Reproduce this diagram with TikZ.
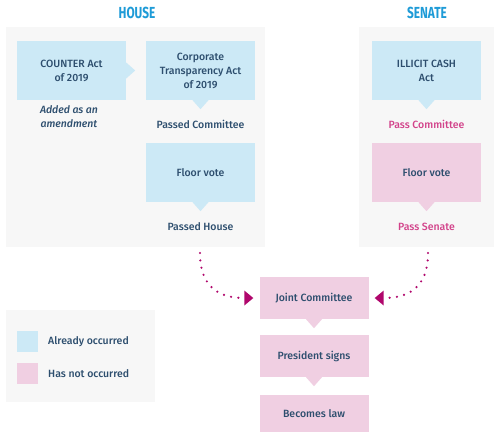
\documentclass[tikz,border=0pt]{standalone}
\usepackage{fontspec}
\setmainfont{Fira Sans}[BoldFont={* Medium},BoldItalicFont={* Medium Italic}]
\newfontfamily\titlefont{Fira Sans}
\usetikzlibrary{arrows.meta,calc}
\definecolor{panelbg}{HTML}{F7F7F7}
\definecolor{doneblue}{HTML}{CCE9F6}
\definecolor{notpink}{HTML}{F0CFE2}
\definecolor{txtnavy}{HTML}{2D4E6E}
\definecolor{titleblue}{HTML}{1E9BD7}
\definecolor{txtpink}{HTML}{D2428A}
\definecolor{arrowmag}{HTML}{B0066C}
\tikzset{
  panel/.style={fill=panelbg,draw=none},
  boxbase/.style={draw=none,minimum width=109pt,minimum height=59pt,align=center,inner sep=0pt,
     font=\fontsize{10.5}{14}\selectfont\bfseries,text=txtnavy},
  bluebox/.style={boxbase,fill=doneblue},
  pinkbox/.style={boxbase,fill=notpink},
  lowbox/.style={minimum height=42pt},
  navylabel/.style={font=\fontsize{10.5}{14}\selectfont\bfseries,text=txtnavy,align=center,inner sep=0pt},
  pinklabel/.style={font=\fontsize{10.5}{14}\selectfont\bfseries,text=txtpink,align=center,inner sep=0pt},
  titlelabel/.style={font=\titlefont\bfseries\fontsize{16}{16}\selectfont,text=titleblue,inner sep=0pt},
  dotarrow/.style={draw=arrowmag,line width=2.4pt,line cap=round,dash pattern=on 0pt off 7.4pt,
     -{Triangle[width=15pt,length=9pt,fill=arrowmag,line width=0pt]}},
}
\begin{document}
\begin{tikzpicture}[x=1pt,y=-1pt]
\useasboundingbox (0,0) rectangle (500,437);
\fill[white] (0,0) rectangle (500,437);
% panels
\path[panel] (6,27) rectangle (265,247);
\path[panel] (359,27) rectangle (494,247);
\path[panel] (6,310) rectangle (155,402);
% titles
\node[titlelabel] (housetitle) at (137,13) {\scalebox{0.74}[1]{HOUSE}};
\node[titlelabel] (senatetitle) at (427,13) {\scalebox{0.74}[1]{SENATE}};
% house boxes
\node[bluebox] (counter) at (71.5,70.5) {COUNTER Act\\of 2019};
\fill[doneblue] ($(counter.east)+(0,-8)$) -- ($(counter.east)+(9,0)$) -- ($(counter.east)+(0,8)$) -- cycle;
\node[bluebox] (corp) at (200.5,70.5) {Corporate\\Transparency Act\\of 2019};
\fill[doneblue] ($(corp.south)+(-8,0)$) -- ($(corp.south)+(0,9)$) -- ($(corp.south)+(8,0)$) -- cycle;
\node[navylabel,font=\fontsize{10.5}{14}\selectfont\bfseries\itshape] (added) at (69,117) {Added as an\\amendment};
\node[navylabel] (passedcomm) at (200.5,124) {Passed Committee};
\node[bluebox] (hfloor) at (200.5,172.5) {Floor vote};
\fill[doneblue] ($(hfloor.south)+(-8,0)$) -- ($(hfloor.south)+(0,9)$) -- ($(hfloor.south)+(8,0)$) -- cycle;
\node[navylabel] (passedhouse) at (200.5,227) {Passed House};
% senate boxes
\node[bluebox] (illicit) at (426.5,70.5) {ILLICIT CASH\\Act};
\fill[doneblue] ($(illicit.south)+(-8,0)$) -- ($(illicit.south)+(0,9)$) -- ($(illicit.south)+(8,0)$) -- cycle;
\node[pinklabel] (passcomm) at (426.5,124) {Pass Committee};
\node[pinkbox] (sfloor) at (426.5,172.5) {Floor vote};
\fill[notpink] ($(sfloor.south)+(-8,0)$) -- ($(sfloor.south)+(0,9)$) -- ($(sfloor.south)+(8,0)$) -- cycle;
\node[pinklabel] (passsenate) at (426.5,227) {Pass Senate};
% bottom chain
\node[pinkbox,lowbox] (joint) at (314,298) {Joint Committee};
\fill[notpink] ($(joint.south)+(-8,0)$) -- ($(joint.south)+(0,9)$) -- ($(joint.south)+(8,0)$) -- cycle;
\node[pinkbox,lowbox] (president) at (314,356) {President signs};
\fill[notpink] ($(president.south)+(-8,0)$) -- ($(president.south)+(0,9)$) -- ($(president.south)+(8,0)$) -- cycle;
\node[pinkbox,minimum height=37pt] (law) at (314,413.5) {Becomes law};
% dotted arrows
\coordinate (hstart) at (200,253);
\coordinate (sstart) at (428,253);
\coordinate (hend) at ($(joint.west)+(-6,0)$);
\coordinate (send) at ($(joint.east)+(6,0)$);
\draw[dotarrow] (hstart) .. controls (200,288) and (220,298) .. (hend);
\draw[dotarrow] (sstart) .. controls (428,288) and (408,298) .. (send);
% legend
\node[fill=doneblue,minimum size=21pt,inner sep=0pt] (legblue) at (27.5,341.5) {};
\node[fill=notpink,minimum size=21pt,inner sep=0pt] (legpink) at (27.5,373.5) {};
\node[navylabel,anchor=west] (legbluetxt) at (48,341.5) {Already occurred};
\node[navylabel,anchor=west] (legpinktxt) at (48,373.5) {Has not occurred};
\end{tikzpicture}
\end{document}
